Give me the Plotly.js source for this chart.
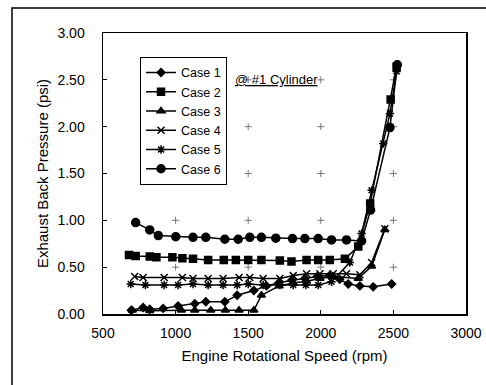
<!DOCTYPE html>
<html>
<head>
<meta charset="utf-8">
<script src="https://cdn.plot.ly/plotly-3.0.1.min.js"></script>
<style>html,body{margin:0;padding:0;background:#fff;}#chart{width:486px;height:385px;}</style>
</head>
<body>
<div id="chart"></div>
<script>
var seriesNames = ["Case 1", "Case 2", "Case 3", "Case 4", "Case 5", "Case 6"];

var case1X = [695, 776, 822, 914, 1017, 1132, 1208, 1339, 1424, 1539, 1626, 1710, 1800, 1890, 1975, 2060, 2130, 2189, 2269, 2361, 2488];
var case1Y = [0.04, 0.07, 0.05, 0.06, 0.085, 0.11, 0.13, 0.13, 0.20, 0.25, 0.30, 0.33, 0.36, 0.38, 0.40, 0.41, 0.37, 0.32, 0.30, 0.29, 0.32];

var case2X = [679, 725, 822, 868, 978, 1047, 1120, 1224, 1332, 1415, 1500, 1591, 1718, 1798, 1902, 1982, 2062, 2166, 2258, 2340, 2481, 2522];
var case2Y = [0.63, 0.62, 0.615, 0.605, 0.605, 0.595, 0.59, 0.577, 0.577, 0.577, 0.577, 0.577, 0.57, 0.56, 0.577, 0.577, 0.577, 0.59, 0.72, 1.18, 2.29, 2.64];

var case3X = [702, 822, 1040, 1132, 1242, 1343, 1437, 1539, 1591, 1713, 1810, 1902, 1994, 2085, 2258, 2350, 2441];
var case3Y = [0.04, 0.035, 0.04, 0.04, 0.04, 0.04, 0.04, 0.04, 0.20, 0.30, 0.33, 0.35, 0.38, 0.40, 0.38, 0.51, 0.90];

var case4X = [718, 776, 921, 1047, 1120, 1224, 1327, 1437, 1511, 1603, 1718, 1810, 1902, 1994, 2085, 2177, 2269, 2350, 2441];
var case4Y = [0.40, 0.39, 0.39, 0.39, 0.38, 0.38, 0.38, 0.39, 0.39, 0.38, 0.38, 0.41, 0.43, 0.43, 0.43, 0.43, 0.42, 0.55, 0.91];

var case5X = [691, 792, 921, 1017, 1120, 1224, 1327, 1424, 1500, 1603, 1718, 1810, 1897, 1982, 2074, 2200, 2281, 2350, 2430, 2476, 2522];
var case5Y = [0.32, 0.31, 0.31, 0.31, 0.32, 0.31, 0.31, 0.31, 0.32, 0.31, 0.31, 0.31, 0.31, 0.31, 0.345, 0.55, 0.86, 1.32, 1.82, 2.14, 2.59];

var case6X = [725, 822, 881, 1001, 1120, 1208, 1339, 1431, 1511, 1591, 1690, 1805, 1890, 1982, 2074, 2177, 2281, 2343, 2476, 2527];
var case6Y = [0.976, 0.898, 0.837, 0.826, 0.819, 0.819, 0.798, 0.798, 0.819, 0.819, 0.809, 0.805, 0.805, 0.805, 0.791, 0.791, 0.78, 1.11, 1.99, 2.66];

var xTickVals = [500, 1000, 1500, 2000, 2500, 3000];
var yTickVals = [0, 0.5, 1.0, 1.5, 2.0, 2.5, 3.0];

var xs = [case1X, case2X, case3X, case4X, case5X, case6X];
var ys = [case1Y, case2Y, case3Y, case4Y, case5Y, case6Y];
var symbols = ["diamond", "square", "triangle-up", "x-thin-open", "asterisk-open", "circle"];
var sizes = [6, 7, 7, 7, 7, 8];

// grid crosses at interior tick intersections
var gx = [], gy = [];
xTickVals.slice(1, -1).forEach(function (x) {
  yTickVals.slice(1, -1).forEach(function (y) { gx.push(x); gy.push(y); });
});

var traces = [{
  x: gx, y: gy, mode: "markers", type: "scatter", showlegend: false, hoverinfo: "skip",
  marker: {symbol: "cross-thin-open", size: 5, color: "#777", line: {color: "#777", width: 1}}
}];

for (var i = 0; i < 6; i++) {
  traces.push({
    x: xs[i], y: ys[i], name: seriesNames[i], type: "scatter", mode: "lines+markers",
    line: {color: "#000", width: 1.5},
    marker: {symbol: symbols[i], size: sizes[i], color: "#000", line: {color: "#000", width: 1.5}}
  });
}

var layout = {
  width: 486, height: 385,
  margin: {l: 103, r: 20, t: 33, b: 71},
  paper_bgcolor: "#fff", plot_bgcolor: "#fff",
  font: {family: "Liberation Sans, Arial, sans-serif", color: "#000", size: 13},
  showlegend: true,
  legend: {
    x: 0.102, y: 0.915, xanchor: "left", yanchor: "top",
    bordercolor: "#000", borderwidth: 1, bgcolor: "#fff",
    font: {size: 12.5, color: "#000"}, tracegroupgap: 0, itemwidth: 30
  },
  xaxis: {
    range: [500, 3000], tickvals: xTickVals, ticks: "inside", ticklen: 4, tickcolor: "#000",
    showgrid: false, zeroline: false, showline: true, linecolor: "#000", linewidth: 1.5, mirror: true,
    tickfont: {size: 14}, ticklabelstandoff: 6,
    title: {text: "Engine Rotational Speed (rpm)", font: {size: 15}, standoff: 10}
  },
  yaxis: {
    range: [0, 3], tickvals: yTickVals, tickformat: ".2f", ticks: "inside", ticklen: 4, tickcolor: "#000",
    showgrid: false, zeroline: false, showline: true, linecolor: "#000", linewidth: 1.5, mirror: true,
    tickfont: {size: 14}, ticklabelstandoff: 14,
    title: {text: "Exhaust Back Pressure (psi)", font: {size: 15}, standoff: 5}
  },
  annotations: [{
    xref: "paper", yref: "paper", x: 0.479, y: 0.868, showarrow: false,
    text: "<u>@ #1 Cylinder</u>", font: {size: 13, color: "#000"}
  }],
  shapes: [{
    type: "rect", xref: "paper", yref: "paper",
    x0: -0.2507, x1: 1.12, y0: -0.3, y1: 1.089,
    line: {color: "#000", width: 1.5}, fillcolor: "rgba(0,0,0,0)", layer: "below"
  }]
};

Plotly.newPlot("chart", traces, layout, {staticPlot: true, displayModeBar: false});
</script>
</body>
</html>
